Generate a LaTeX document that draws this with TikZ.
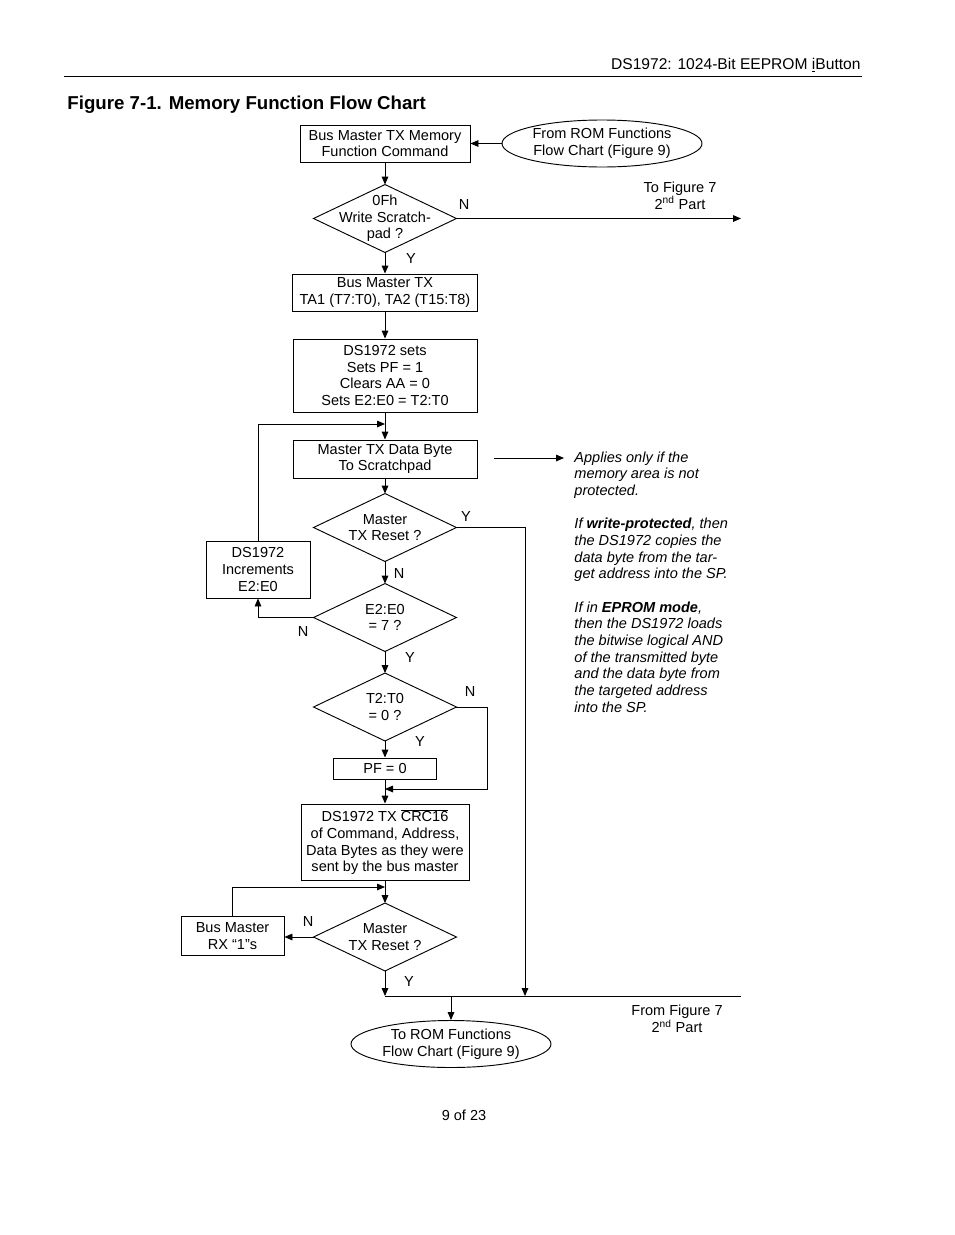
\documentclass[tikz,border=0pt]{standalone}
\usepackage{fontspec}
\setmainfont{Liberation Sans}
\usetikzlibrary{arrows.meta,shapes.geometric}
\newcommand\bodyfont{\fontsize{10.9}{12.5}\selectfont}

\begin{document}
\begin{tikzpicture}[x=0.75pt,y=-0.75pt,line width=0.7pt,
  >={Triangle[length=6pt,width=5pt]},
  every node/.style={font=\bodyfont},
  box/.style={draw,inner sep=0pt,align=center},
  oval/.style={draw,ellipse,inner sep=0pt,align=center,minimum width=150pt,minimum height=35.25pt},
  decision/.style={inner sep=0pt,align=center,minimum width=106.5pt,minimum height=50.25pt}]
\useasboundingbox (0,0) rectangle (954,1235);
% page head
\draw  (861,65) node[anchor=east,inner sep=0pt,font=\fontsize{11.7}{14}\selectfont] (hdr) {DS1972: 1024-Bit EEPROM \underline{i}Button};
\draw [line width=0.6pt] (64,76) -- (862,76);
\draw  (67,105) node[anchor=west,inner sep=0pt,font=\fontsize{14}{16}\selectfont\bfseries] (ttl) {Figure 7-1. Memory Function Flow Chart};
% flow
\draw  (385,143.5) node[box,minimum width=127.5pt,minimum height=27.75pt] (cmd) {Bus Master TX Memory\\Function Command};
\draw  (602,143.5) node[oval] (romin) {From ROM Functions\\Flow Chart (Figure 9)};
\draw  (385,218.5) node[decision] (wsp) {0Fh\\Write Scratch-\\pad ?};
\draw  (385,292.5) node[box,minimum width=138.75pt,minimum height=27.75pt] (tadr) {Bus Master TX\\TA1 (T7:T0), TA2 (T15:T8)};
\draw  (385,375.5) node[box,minimum width=138pt,minimum height=54.75pt] (sets) {DS1972 sets\\Sets PF = 1\\Clears AA = 0\\Sets E2:E0 = T2:T0};
\draw  (385,459) node[box,minimum width=138pt,minimum height=28.5pt] (dbyte) {Master TX Data Byte\\To Scratchpad};
\draw  (385,527.5) node[decision] (rsta) {Master\\TX Reset ?};
\draw  (258,569.5) node[box,minimum width=78pt,minimum height=42.75pt] (incr) {DS1972\\Increments\\E2:E0};
\draw  (385,617.5) node[decision] (esev) {E2:E0\\= 7 ?};
\draw  (385,707) node[decision] (tzero) {T2:T0\\= 0 ?};
\draw  (385,768.5) node[box,minimum width=77.25pt,minimum height=15.75pt] (pf) {PF = 0};
\draw  (385,842) node[box,minimum width=126pt,minimum height=57pt] (crc) {DS1972 TX $\overline{\mbox{CRC16}}$\\of Command, Address,\\Data Bytes as they were\\sent by the bus master};
\draw  (385,937) node[decision] (rstb) {Master\\TX Reset ?};
\draw  (232.5,936) node[box,minimum width=77.25pt,minimum height=29.25pt] (rx) {Bus Master\\RX “1”s};
\draw  (451,1044) node[oval] (romout) {To ROM Functions\\Flow Chart (Figure 9)};
\foreach \d in {wsp,rsta,esev,tzero,rstb}
  \draw (\d.north) -- (\d.east) -- (\d.south) -- (\d.west) -- cycle;
\coordinate (toF) at (741,218.5);
\coordinate (loopa) at (385,424);
\coordinate (loopb) at (385,789);
\coordinate (loopc) at (385,887);
\coordinate (bus) at (385,996);
\coordinate (busr) at (525,996);
\coordinate (fromF) at (741,996);
\coordinate (na) at (494,458);
\coordinate (nb) at (564,458);
\draw [->] (romin.west) -- (cmd.east);
\draw [->] (cmd.south) -- (wsp.north);
\draw [->] (wsp.east) -- (toF);
\draw [->] (wsp.south) -- (tadr.north);
\draw [->] (tadr.south) -- (sets.north);
\draw [->] (sets.south) -- (dbyte.north);
\draw [->] (incr.north) |- (loopa);
\draw [->] (dbyte.south) -- (rsta.north);
\draw [->] (rsta.east) -| (busr);
\draw [->] (rsta.south) -- (esev.north);
\draw [->] (esev.west) -| (incr.south);
\draw [->] (esev.south) -- (tzero.north);
\draw [->] (tzero.east) -- ++(31,0) |- (loopb);
\draw [->] (tzero.south) -- (pf.north);
\draw [->] (pf.south) -- (crc.north);
\draw [->] (crc.south) -- (rstb.north);
\draw [->] (rx.north) |- (loopc);
\draw [->] (rstb.west) -- (rstb.west -| rx.east);
\draw [->] (rstb.south) -- (bus);
\draw (bus) -- (fromF);
\draw [->] (bus -| romout.north) -- (romout.north);
\draw [->] (na) -- (nb);
% branch labels
\draw  (464,204) node (nwsp) {N};
\draw  (411,258) node (ywsp) {Y};
\draw  (466,516) node (yrsta) {Y};
\draw  (399,573) node (nrsta) {N};
\draw  (303,631) node (nesev) {N};
\draw  (410,657) node (yesev) {Y};
\draw  (470,691) node (ntzero) {N};
\draw  (420,741) node (ytzero) {Y};
\draw  (308,921) node (nrstb) {N};
\draw  (409,981) node (yrstb) {Y};
\draw  (680,195.5) node[align=center] (tofig) {To Figure 7\\2\textsuperscript{nd} Part};
\draw  (677,1019) node[align=center] (fromfig) {From Figure 7\\2\textsuperscript{nd} Part};
% side note
\draw  (574,451) node[anchor=north west,align=left,inner sep=0pt,font=\bodyfont\itshape] (note) {Applies only if the\\memory area is not\\protected.\\[12.5pt]If \textbf{write-protected}, then\\the DS1972 copies the\\data byte from the tar-\\get address into the SP.\\[12.5pt]If in \textbf{EPROM mode},\\then the DS1972 loads\\the bitwise logical AND\\of the transmitted byte\\and the data byte from\\the targeted address\\into the SP.};
\draw  (464,1115) node (pgno) {9 of 23};
\end{tikzpicture}
\end{document}
